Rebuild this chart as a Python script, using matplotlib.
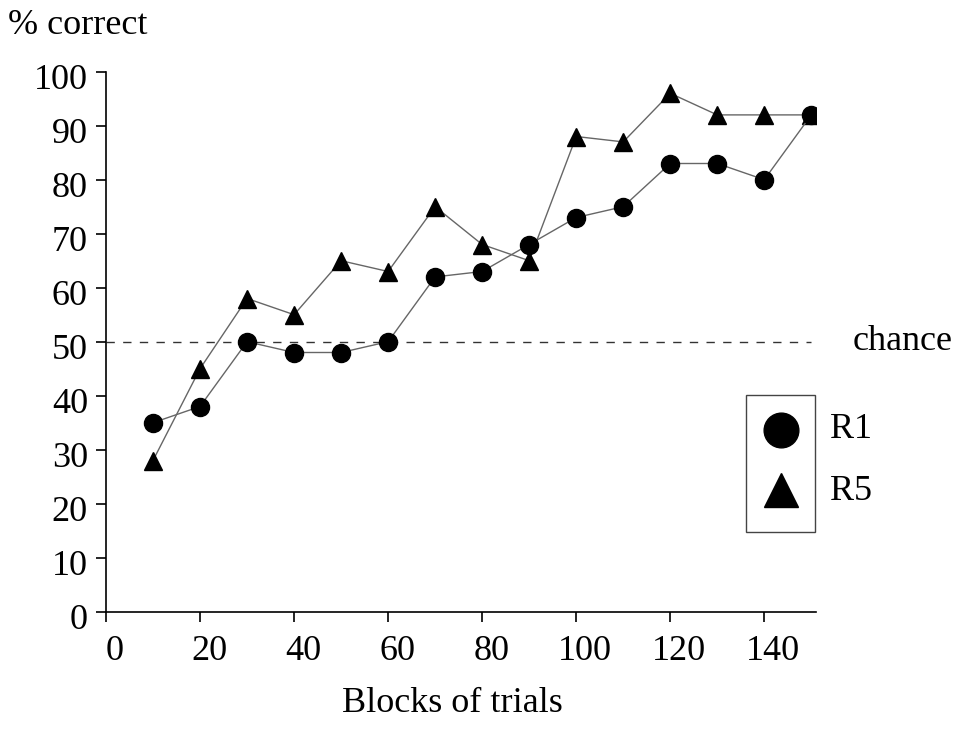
import matplotlib.pyplot as plt
from matplotlib.lines import Line2D
from matplotlib.patches import Rectangle
from matplotlib.transforms import ScaledTranslation

plt.rcParams["font.family"] = ["Liberation Serif", "DejaVu Serif"]

# Blocks of trials and % correct per rat
blocks = [10, 20, 30, 40, 50, 60, 70, 80, 90, 100, 110, 120, 130, 140, 150]
r1_correct = [35, 38, 50, 48, 48, 50, 62, 63, 68, 73, 75, 83, 83, 80, 92]
r5_correct = [28, 45, 58, 55, 65, 63, 75, 68, 65, 88, 87, 96, 92, 92, 92]
chance_level = 50
x_ticks = [0, 20, 40, 60, 80, 100, 120, 140]
y_ticks = [0, 10, 20, 30, 40, 50, 60, 70, 80, 90, 100]

FS = 26
W, H = 961, 750

fig = plt.figure(figsize=(W / 100, H / 100), dpi=100)
ax = fig.add_axes([106 / W, 1 - 611.7 / H, (816 - 106) / W, (611.7 - 71.7) / H])

ax.plot(blocks, r5_correct, color="#666666", lw=1.0, marker="^",
        markersize=13.5, markerfacecolor="black", markeredgecolor="black", zorder=3)
ax.plot(blocks, r1_correct, color="#666666", lw=1.0, marker="o",
        markersize=13, markerfacecolor="black", markeredgecolor="black", zorder=4)
ax.axhline(chance_level, xmin=0, xmax=150 / 151, color="#333333", lw=1.0,
           linestyle=(0, (6, 6)), zorder=1)

ax.set_xlim(0, 151)
ax.set_ylim(0, 100)
ax.set_xticks(x_ticks)
ax.set_yticks(y_ticks)
ax.tick_params(labelsize=FS, length=7, width=1.2, direction="out")
ax.tick_params(axis="x", pad=10)
ax.tick_params(axis="y", pad=6)
for side in ("top", "right"):
    ax.spines[side].set_visible(False)
for side in ("left", "bottom"):
    ax.spines[side].set_linewidth(1.2)

# nudge tick labels a little right / down
for lbl in ax.get_xticklabels():
    lbl.set_transform(lbl.get_transform() + ScaledTranslation(9 / 100, 0, fig.dpi_scale_trans))
for lbl in ax.get_yticklabels():
    lbl.set_transform(lbl.get_transform() + ScaledTranslation(0, -5 / 100, fig.dpi_scale_trans))

fig.text(8 / W, 1 - 26 / H, "% correct", fontsize=FS, va="center", ha="left")
fig.text(452 / W, 1 - 703 / H, "Blocks of trials", fontsize=FS, va="center", ha="center")
fig.text(853 / W, 1 - 341 / H, "chance", fontsize=FS, va="center", ha="left")

# key box with symbols, labels sit outside it
fig.patches.append(Rectangle((746 / W, 1 - 532 / H), 69 / W, 137 / H, fill=False,
                             edgecolor="#444444", lw=1.0, transform=fig.transFigure))
fig.lines.append(Line2D([781 / W], [1 - 430 / H], marker="o", markersize=25,
                        color="black", transform=fig.transFigure))
fig.lines.append(Line2D([781 / W], [1 - 490 / H], marker="^", markersize=25,
                        color="black", transform=fig.transFigure))
fig.text(830 / W, 1 - 430 / H, "R1", fontsize=FS, va="center", ha="left")
fig.text(830 / W, 1 - 492 / H, "R5", fontsize=FS, va="center", ha="left")

fig.savefig("out.png", dpi=100)
